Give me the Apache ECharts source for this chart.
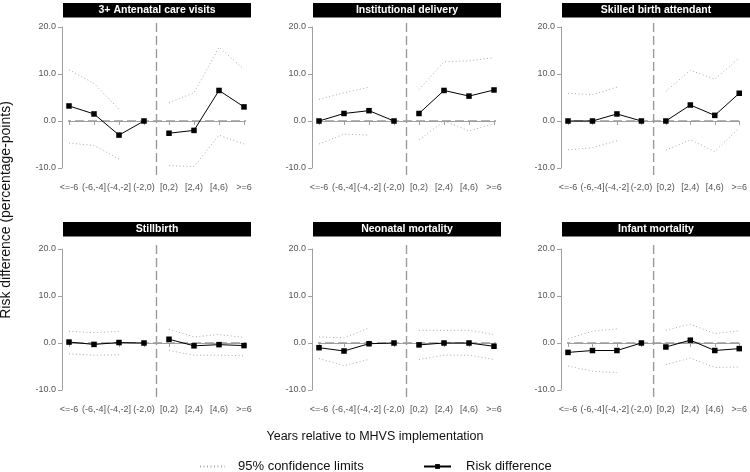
<!DOCTYPE html>
<html><head><meta charset="utf-8">
<script src="https://cdn.jsdelivr.net/npm/echarts@6/dist/echarts.min.js"></script>
<style>html,body{margin:0;padding:0;background:#fff}#c{width:750px;height:472px}</style>
</head><body><div id="c"></div>
<script>
const categories = ['<=-6','(-6,-4]','(-4,-2]','(-2,0)','[0,2)','[2,4)','[4,6)','>=6'];
const panelTitles = ['3+ Antenatal care visits','Institutional delivery','Skilled birth attendant','Stillbirth','Neonatal mortality','Infant mortality'];
const yTicks = [-10, 0, 10, 20];

const antenatalEst   = [3.2, 1.5, -3.0, 0, -2.6, -2.0, 6.5, 3.0];
const antenatalUpper = [10.9, 8.0, 2.5, null, 3.9, 6.0, 15.7, 11.0];
const antenatalLower = [-4.7, -5.2, -8.1, null, -9.5, -9.7, -3.0, -4.9];

const institutionalEst   = [0, 1.6, 2.2, 0, 1.6, 6.5, 5.3, 6.6];
const institutionalUpper = [4.6, 6.0, 7.2, null, 6.7, 12.6, 12.8, 13.5];
const institutionalLower = [-4.9, -2.8, -3.0, null, -4.0, 0.0, -2.1, -0.6];

const skilledEst   = [0, 0, 1.5, 0, 0, 3.4, 1.2, 5.9];
const skilledUpper = [5.9, 5.6, 7.2, null, 6.3, 10.8, 8.9, 13.4];
const skilledLower = [-6.1, -5.7, -4.2, null, -6.2, -4.0, -6.5, -1.5];

const stillbirthEst   = [0.2, -0.3, 0.1, 0, 0.8, -0.6, -0.35, -0.55];
const stillbirthUpper = [2.5, 2.2, 2.5, null, 2.9, 1.3, 1.8, 1.2];
const stillbirthLower = [-2.3, -2.6, -2.5, null, -1.6, -2.6, -2.6, -2.7];

const neonatalEst   = [-1.0, -1.7, -0.15, 0, -0.4, 0, 0, -0.7];
const neonatalUpper = [1.3, 1.1, 3.2, null, 2.7, 2.7, 2.7, 1.8];
const neonatalLower = [-3.3, -4.8, -3.5, null, -3.5, -2.6, -2.6, -3.5];

const infantEst   = [-2.0, -1.6, -1.6, 0, -0.85, 0.6, -1.6, -1.2];
const infantUpper = [0.9, 2.5, 3.0, null, 2.7, 4.0, 2.0, 2.6];
const infantLower = [-4.9, -6.0, -6.3, null, -4.6, -3.2, -5.2, -5.1];

const panels = [
  [antenatalEst, antenatalUpper, antenatalLower],
  [institutionalEst, institutionalUpper, institutionalLower],
  [skilledEst, skilledUpper, skilledLower],
  [stillbirthEst, stillbirthUpper, stillbirthLower],
  [neonatalEst, neonatalUpper, neonatalLower],
  [infantEst, infantUpper, infantLower]
];

// layout
const FONT = 'Liberation Sans, Arial, Helvetica, sans-serif';
const colLeft = [69, 319, 568];
const gridW = 175;
const rowTop = [27, 249];
const gridH = 141;
const boxTop = [3, 222];
const yOff = 7, xOff = 9;
const pxPerX = gridW / 7, pxPerY = gridH / 30;
const axisColor = '#a0a0a0', labelColor = '#555';

const grids = [], xAxes = [], yAxes = [], series = [], graphics = [];

function pts(arr, from, to) {
  const out = [];
  for (let i = from; i <= to; i++) if (arr[i] !== null) out.push([i + 1, arr[i]]);
  return out;
}

panels.forEach((p, k) => {
  const c = k % 3, r = Math.floor(k / 3);
  const left = colLeft[c], top = rowTop[r];
  grids.push({left: left, top: top, width: gridW, height: gridH});
  xAxes.push({
    type: 'value', gridIndex: k, min: 1, max: 8, interval: 1, offset: xOff,
    axisLine: {show: true, lineStyle: {color: axisColor, width: 1}},
    axisTick: {show: true, length: 4, lineStyle: {color: axisColor}},
    axisLabel: {color: labelColor, fontSize: 9, fontFamily: FONT, margin: 6,
      formatter: v => categories[v - 1] || ''},
    splitLine: {show: false}
  });
  yAxes.push({
    type: 'value', gridIndex: k, min: -10, max: 20, interval: 10, offset: yOff,
    axisLine: {show: true, lineStyle: {color: axisColor, width: 1}},
    axisTick: {show: true, length: 4, lineStyle: {color: axisColor}},
    axisLabel: {color: labelColor, fontSize: 9, fontFamily: FONT, margin: 6,
      formatter: v => v.toFixed(1)},
    splitLine: {show: false}
  });
  const common = {type: 'line', xAxisIndex: k, yAxisIndex: k, clip: false, animation: false, silent: true};
  // reference lines
  const xLo = 1 - yOff / pxPerX, xHi = 8 + 8 / pxPerX;
  const yHi = 20 + 4 / pxPerY, yLo = -10 - xOff / pxPerY;
  series.push(Object.assign({}, common, {name: 'ref', symbol: 'none',
    data: [[xLo, 0], [xHi, 0]], lineStyle: {color: '#9a9a9a', width: 1.4, type: [9, 4]}, z: 1}));
  series.push(Object.assign({}, common, {name: 'ref', symbol: 'none',
    data: [[4.5, yHi], [4.5, yLo]], lineStyle: {color: '#9a9a9a', width: 1.4, type: [9, 4]}, z: 1}));
  // confidence limits
  [[1, 0, 2], [1, 4, 7], [2, 0, 2], [2, 4, 7]].forEach(([idx, a, b]) => {
    series.push(Object.assign({}, common, {name: '95% confidence limits', symbol: 'none',
      data: pts(p[idx], a, b), lineStyle: {color: '#a8a8a8', width: 1, type: [1, 2.5]},
      itemStyle: {color: '#a8a8a8'}, z: 2}));
  });
  // estimates
  [[0, 3], [4, 7]].forEach(([a, b]) => {
    series.push(Object.assign({}, common, {name: 'Risk difference', symbol: 'rect', symbolSize: 5.5,
      data: pts(p[0], a, b), lineStyle: {color: '#000', width: 1}, itemStyle: {color: '#000'}, z: 3}));
  });
  // title box
  graphics.push({type: 'rect', left: left - 6, top: boxTop[r], shape: {width: 188, height: 14.5},
    style: {fill: '#000'}, silent: true});
  graphics.push({type: 'text', x: left - 6 + 94, y: boxTop[r] + 7.5,
    style: {text: panelTitles[k], fill: '#fff', font: 'bold 10.5px ' + FONT, textAlign: 'center', textVerticalAlign: 'middle'}});
});

graphics.push({type: 'text', x: 375, y: 437,
  style: {text: 'Years relative to MHVS implementation', fill: '#111', font: '12.5px ' + FONT, textAlign: 'center', textVerticalAlign: 'middle'}});
graphics.push({type: 'text', x: 6, y: 210, rotation: Math.PI / 2,
  style: {text: 'Risk difference (percentage-points)', fill: '#111', font: '14px ' + FONT, textAlign: 'center', textVerticalAlign: 'middle'}});

const chart = echarts.init(document.getElementById('c'), null, {renderer: 'canvas'});
chart.setOption({
  animation: false,
  grid: grids, xAxis: xAxes, yAxis: yAxes, series: series,
  legend: [
    {data: [{name: '95% confidence limits', itemStyle: {color: 'rgba(0,0,0,0)', borderWidth: 0}}],
      left: 194, top: 455, itemWidth: 25, itemHeight: 6,
      selectedMode: false, textStyle: {fontSize: 13, fontFamily: FONT, color: '#111', padding: [0, 0, 0, 8]}},
    {data: ['Risk difference'], left: 418, top: 455, itemWidth: 27, itemHeight: 6,
      selectedMode: false, textStyle: {fontSize: 13, fontFamily: FONT, color: '#111', padding: [0, 0, 0, 10]}}
  ],
  graphic: graphics
});
</script></body></html>
